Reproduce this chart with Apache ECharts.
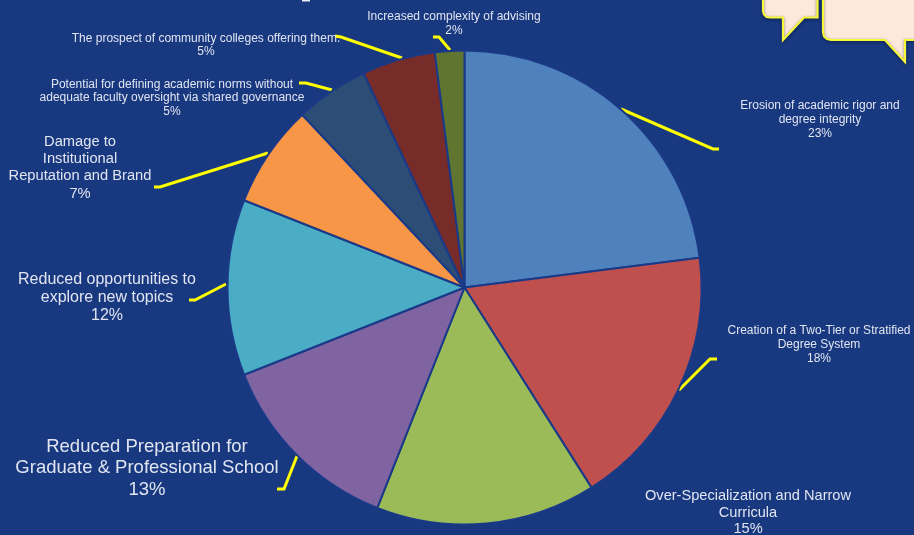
<!DOCTYPE html>
<html>
<head>
<meta charset="utf-8">
<style>html,body{margin:0;padding:0;background:#18387f}#chart{width:914px;height:535px}</style>
<script src="https://cdn.jsdelivr.net/npm/echarts@6/dist/echarts.min.js"></script>
</head>
<body>
<div id="chart"></div>
<script>
// Concerns about the degree, share of responses
const categories = [
  'Erosion of academic rigor and\ndegree integrity',
  'Creation of a Two-Tier or Stratified\nDegree System',
  'Over-Specialization and Narrow\nCurricula',
  'Reduced Preparation for\nGraduate & Professional School',
  'Reduced opportunities to\nexplore new topics',
  'Damage to\nInstitutional\nReputation and Brand',
  'Potential for defining academic norms without\nadequate faculty oversight via shared governance',
  'The prospect of community colleges offering them.',
  'Increased complexity of advising'
];
const shares = [23, 18, 15, 13, 12, 7, 5, 5, 2];
const sliceColors = ['#4f81bd', '#c0504d', '#9bbb59', '#8064a2', '#4bacc6', '#f79646', '#2c4d75', '#772c2a', '#5f7530'];
const labelSizes = [12, 12, 14.6, 18.5, 16, 14.7, 12, 12, 12];
const labelLineHeights = [13.7, 13.7, 16.7, 21.5, 18, 17.3, 13.5, 13.5, 14];

// Label anchors: centre x, top y of the text block
const labelAnchors = [
  [820, 99], [819, 324], [748, 487.5], [147, 436], [107, 270.5], [80, 133], [172, 77.5], [206, 31.5], [454, 10]
];
// Leader paths, from the slice edge out to the label
const leaders = [
  [[621, 109], [713, 149], [719, 149]],
  [[679, 390], [710, 359], [717, 359]],
  null,
  [[297, 456], [284, 489], [277, 489]],
  [[226, 284], [195, 300], [189, 300]],
  [[268, 153], [160, 187], [154, 187]],
  [[332, 90], [306, 83], [299, 83]],
  [[402, 58], [341, 37], [335, 36]],
  [[450, 50], [439, 37], [433, 37]]
];
// Speech bubble outlines, cut off by the top right corner
const bubbleOutlines = [
  [[763, -10], [763, 11], [764, 14.5], [766.5, 17], [770, 17.5], [783, 17.5], [783, 40], [804, 17.5], [817.5, 17.5], [817.5, -10]],
  [[823, -10], [823, 32], [824, 36.5], [827, 39], [831, 40], [885, 40], [905, 62], [905, 40], [920, 40], [920, -10]]
];

const chart = echarts.init(document.getElementById('chart'), null, { renderer: 'canvas' });
chart.setOption({
  animation: false,
  backgroundColor: '#18387f',
  graphic: bubbleOutlines.map(points => ({
    type: 'polygon',
    silent: true,
    shape: { points: points },
    style: {
      fill: '#fde9dc',
      stroke: '#f8f83a',
      lineWidth: 2.2,
      shadowColor: 'rgba(10,20,50,0.5)',
      shadowBlur: 3,
      shadowOffsetY: 1
    }
  })).concat([
    // Descender of the heading above the frame
    {
      type: 'rect',
      silent: true,
      shape: { x: 302, y: 0, width: 8, height: 1.5 },
      style: { fill: '#e8ebf4' }
    }
  ]),
  series: [{
    type: 'pie',
    center: [464.5, 287.5],
    radius: 237,
    startAngle: 90,
    clockwise: true,
    avoidLabelOverlap: false,
    emphasis: { disabled: true },
    itemStyle: { borderColor: '#1a3a88', borderWidth: 2 },
    label: {
      show: true,
      formatter: '{b}\n{c}%',
      color: '#e1e5f1',
      fontFamily: '"Liberation Sans", Arial, sans-serif',
      align: 'center'
    },
    labelLine: {
      show: true,
      lineStyle: { color: '#ffff00', width: 3 }
    },
    labelLayout: function (p) {
      const i = p.dataIndex;
      return {
        x: labelAnchors[i][0],
        y: labelAnchors[i][1],
        align: 'center',
        verticalAlign: 'top',
        labelLinePoints: leaders[i] || undefined
      };
    },
    data: categories.map((name, i) => ({
      name: name,
      value: shares[i],
      itemStyle: { color: sliceColors[i] },
      label: { fontSize: labelSizes[i], lineHeight: labelLineHeights[i] },
      labelLine: { show: !!leaders[i] }
    }))
  }]
});
</script>
</body>
</html>
